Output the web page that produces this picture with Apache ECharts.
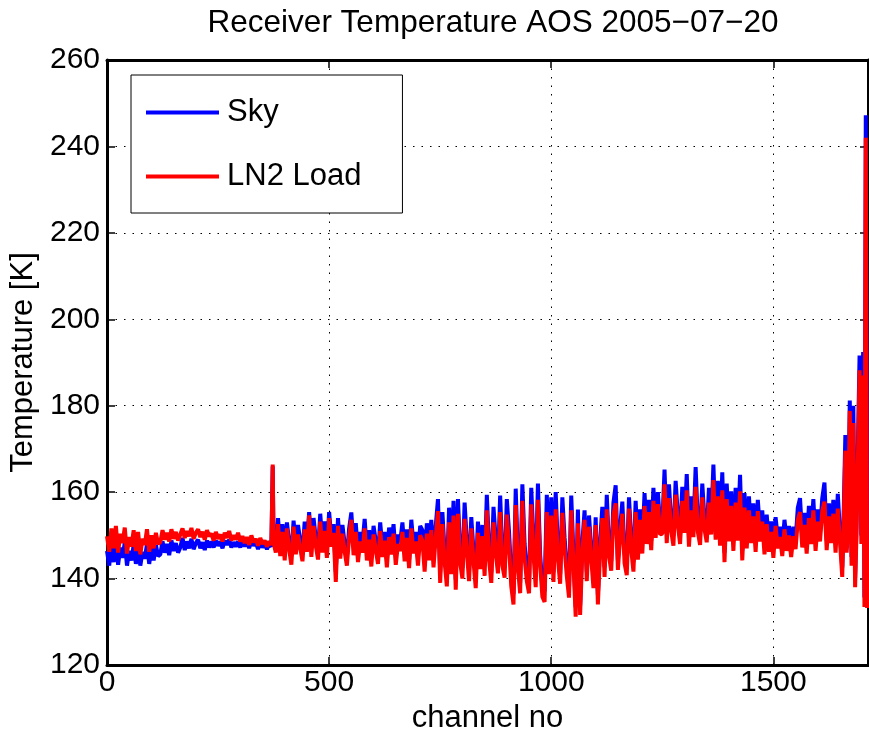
<!DOCTYPE html>
<html>
<head>
<meta charset="utf-8">
<script src="https://cdn.jsdelivr.net/npm/echarts@6/dist/echarts.min.js"></script>
<style>
html,body{margin:0;padding:0;background:#fff;}
#chart{width:869px;height:735px;}
</style>
</head>
<body>
<div id="chart"></div>
<script>
// ---- data ----
const titleText = 'Receiver Temperature AOS 2005\u221207\u221220';
const xAxisName = 'channel no';
const yAxisName = 'Temperature [K]';
const seriesNames = ['Sky', 'LN2 Load'];
const xTicks = [0, 500, 1000, 1500];
const yTicks = [120, 140, 160, 180, 200, 220, 240, 260];

const channels = [
  0,5,10,15,20,25,30,35,40,45,50,55,60,65,70,75,80,85,90,95,100,105,110,115,
  120,125,130,135,140,145,150,155,160,
  165,170,175,180,185,190,195,200,205,210,215,220,225,230,
  235,240,245,250,255,260,265,270,275,280,285,290,295,300,
  305,310,315,320,325,330,335,340,345,350,355,360,365,
  370,373,375,
  380,385,390,395,400,405,410,415,420,425,430,435,440,445,450,455,460,465,470,475,480,485,490,495,500,505,510,515,520,
  525,530,535,540,545,550,555,560,565,570,575,580,585,590,595,600,605,610,615,620,625,630,635,640,645,650,655,660,665,670,675,680,685,690,695,700,705,
  710,715,720,725,730,735,740,745,750,755,760,765,770,775,780,785,790,795,800,805,810,815,820,825,830,835,840,845,
  850,855,860,865,870,875,880,885,890,895,900,905,910,915,920,925,930,935,940,945,950,955,960,965,970,975,980,985,990,995,1000,
  1005,1010,1015,1020,1025,1030,1035,1040,1045,1050,1055,1060,1065,1070,1075,1080,1085,1090,1095,1100,1105,
  1110,1115,1120,1125,1130,1135,1140,1145,1150,1155,1160,1165,1170,1175,1180,1185,1190,1195,1200,
  1205,1210,1215,1220,1225,1230,1235,1240,1245,
  1250,1255,1260,1265,1270,1275,1280,1285,1290,1295,1300,1305,1310,1315,1320,1325,1330,1335,1340,1345,1350,1355,1360,1365,1370,1375,1380,1385,
  1390,1395,1400,1405,1410,1415,1420,1425,1430,1435,1440,1445,1450,1455,1460,1465,1470,1475,1480,
  1485,1490,1495,1500,1505,1510,1515,1520,1525,1530,1535,1540,1545,
  1550,1555,1560,1565,1570,1575,1580,1585,1590,1595,1600,1605,1610,1615,1620,1625,1630,1635,1640,1645,1650,
  1655,1658,1662,1665,1668,1672,1676,1680,1684,1687,1690,1694,1698,1702,1705,1708,1711
];

const sky = [
  146.4,143.0,148.2,143.8,148.8,143.2,147.2,144.8,148.4,143.0,146.4,144.2,147.8,143.4,147.4,143.0,146.2,144.6,148.0,143.4,147.0,144.2,147.8,145.2,
  145.6,148.6,146.0,148.0,145.4,148.8,146.4,148.2,146.0,
  147.2,149.4,146.6,148.6,147.0,149.2,146.8,148.2,149.0,147.0,148.4,146.6,148.8,147.2,
  148.6,147.2,148.8,147.6,148.6,147.0,148.8,147.8,149.0,147.2,148.4,147.4,148.6,147.2,
  148.8,147.4,148.8,147.0,149.0,147.6,148.4,146.8,148.6,147.2,148.0,146.8,148.0,
  147.4,166.0,147.6,
  147.6,154.0,147.0,152.6,146.0,153.0,148.6,145.2,153.4,147.4,152.4,148.8,146.0,153.2,148.0,155.4,147.0,154.0,149.2,146.4,155.0,148.0,153.2,146.6,155.4,149.2,152.6,141.6,154.0,
  146.6,152.4,148.0,145.0,151.6,155.3,147.4,152.8,145.8,150.8,148.0,153.8,146.2,151.2,144.8,152.2,148.6,145.4,153.0,147.0,150.8,144.6,151.8,147.6,152.6,145.2,150.2,148.4,153.0,146.0,151.4,144.4,153.6,147.8,150.8,145.0,152.2,
  151.2,144.0,152.8,146.6,153.6,145.0,152.2,158.4,141.4,155.4,146.2,140.6,156.4,143.4,158.0,139.8,158.4,146.0,142.4,157.6,148.6,141.8,154.2,146.4,140.2,153.2,144.6,152.4,
  143.0,159.4,147.2,141.4,156.6,149.0,143.6,159.2,145.4,142.6,158.4,150.8,140.6,136.4,160.8,144.8,139.0,161.8,148.0,141.8,139.0,161.0,149.0,140.4,162.0,145.6,138.2,137.0,159.4,143.4,158.8,
  141.4,160.0,147.0,141.0,158.8,149.4,142.8,137.8,159.2,145.6,133.4,156.0,133.8,148.4,155.8,141.6,154.6,147.0,140.0,154.2,136.2,
  148.6,156.6,142.6,159.4,147.4,144.0,157.6,161.6,144.2,151.8,157.8,145.8,143.0,158.8,149.0,143.8,158.0,146.6,156.0,
  148.0,159.8,150.2,158.2,148.8,161.0,151.6,160.0,152.4,
  152.6,165.2,150.4,161.8,153.2,149.8,162.6,154.6,150.2,161.2,152.8,164.2,149.6,159.0,151.8,165.8,153.0,150.0,162.0,153.6,150.6,161.0,152.4,166.4,151.2,162.6,149.8,164.6,
  146.0,162.0,150.8,160.2,148.6,161.0,151.0,164.0,146.4,159.8,149.2,159.0,150.4,157.4,148.4,158.2,150.8,155.8,147.8,
  154.8,148.4,153.2,147.0,154.2,149.2,152.0,147.4,153.6,148.6,152.2,147.2,152.0,
  149.0,156.4,158.6,149.4,155.2,148.0,156.8,150.2,158.4,148.6,156.0,150.8,158.6,162.2,148.8,157.4,150.4,158.2,148.2,159.6,150.6,
  142.6,154.0,173.2,148.0,153.0,181.2,145.0,180.0,140.2,152.0,169.0,191.6,150.0,192.4,135.6,247.2,135.0
];

const ln2Load = [
  149.8,146.2,151.6,147.0,152.2,146.0,150.4,148.2,151.8,145.8,149.6,147.4,151.2,146.4,150.8,145.6,149.2,147.8,151.4,146.2,150.0,147.0,150.6,148.0,
  148.4,151.2,149.0,150.6,148.6,151.4,149.2,150.8,148.8,
  150.2,151.6,149.4,151.0,149.8,151.7,149.2,150.6,151.4,149.6,150.8,149.0,151.2,149.8,
  150.4,148.8,150.8,149.2,150.2,148.6,150.6,149.4,151.0,148.8,150.0,149.0,150.6,148.6,
  149.8,148.2,149.6,147.8,150.0,148.4,149.2,147.6,149.4,148.0,148.8,147.4,148.6,
  147.8,166.4,148.2,
  146.0,152.6,145.2,150.8,144.2,151.6,146.8,143.2,152.0,145.6,150.2,147.0,144.0,151.4,146.2,154.6,145.0,152.2,147.6,144.4,153.2,146.0,151.0,144.8,154.0,147.4,150.6,139.2,152.2,
  144.6,150.4,146.2,143.0,149.6,153.6,145.4,150.8,143.8,148.6,146.0,151.6,144.2,149.0,142.8,150.2,146.6,143.4,151.0,145.0,148.8,142.6,149.6,145.6,150.4,143.2,148.0,146.4,150.8,144.0,149.4,142.4,151.6,145.8,148.6,143.0,150.0,
  148.8,141.6,150.4,144.2,151.2,142.6,149.6,155.6,139.0,152.6,143.8,138.2,153.0,141.0,154.6,137.4,155.0,143.6,140.0,153.8,146.2,139.4,151.6,144.0,137.8,150.6,142.2,149.8,
  140.6,155.8,144.4,139.0,153.0,146.0,141.2,155.4,143.0,140.2,154.8,147.6,138.2,134.0,157.0,142.4,136.6,158.0,144.8,139.4,136.6,157.2,145.6,138.0,158.2,143.2,135.8,134.6,155.4,141.0,154.6,
  139.2,156.0,144.6,138.8,155.2,147.0,140.6,135.6,155.8,143.4,131.2,152.8,131.6,146.2,153.6,139.4,152.0,144.8,137.8,152.4,134.0,
  146.4,154.0,140.4,156.0,145.2,141.8,154.8,157.4,142.0,149.6,155.0,143.6,140.8,156.2,146.8,141.6,155.4,144.4,153.6,
  145.8,156.8,148.0,155.4,146.6,158.0,149.4,157.2,150.2,
  150.4,161.8,148.2,158.6,151.0,147.6,159.4,152.4,148.0,158.0,150.6,160.4,147.4,155.8,149.6,161.2,150.8,147.8,158.8,151.4,148.4,157.6,150.2,162.8,149.0,159.0,147.6,160.4,
  143.8,158.4,148.6,156.8,146.4,157.6,148.8,160.2,144.2,156.4,147.0,155.8,148.2,154.4,146.2,155.6,148.6,153.2,145.6,
  152.6,146.2,150.8,144.8,152.2,147.0,149.6,145.2,151.4,146.4,150.0,145.0,149.8,
  146.8,153.6,155.4,147.2,152.4,145.8,154.0,148.0,155.8,146.4,153.2,148.6,155.6,157.8,146.6,154.4,148.2,155.0,146.0,156.2,148.4,
  140.4,152.0,169.6,146.0,151.0,178.8,143.0,176.0,138.0,150.0,166.0,188.2,148.0,187.0,133.4,242.0,133.2
];

const xMin = 0, xMax = 1713, xStep = 500;
const yMin = 120, yMax = 260, yStep = 20;

// ---- chart ----
const FONT = "'Liberation Sans', Arial, Helvetica, sans-serif";
const pairs = (vals) => channels.map((c, i) => [c, vals[i]]);

const gridDots = { show: true, lineStyle: { color: '#000', width: 1, type: [1.5, 7] } };
const boxLine = { show: true, onZero: false, lineStyle: { color: '#000', width: 3 } };
const tickIn = { show: true, inside: true, length: 8, lineStyle: { color: '#000', width: 1.5 } };

const chart = echarts.init(document.getElementById('chart'), null, { renderer: 'canvas' });
chart.setOption({
  animation: false,
  backgroundColor: '#fff',
  title: {
    text: titleText,
    left: 488,
    top: 2,
    textAlign: 'center',
    textStyle: { fontFamily: FONT, fontSize: 31.5, fontWeight: 'normal', color: '#000' }
  },
  grid: { left: 107, right: 1, top: 60, bottom: 70, containLabel: false, outerBoundsMode: 'none' },
  legend: {
    data: seriesNames,
    orient: 'vertical',
    left: 131,
    top: 75,
    padding: [22, 41, 21, 15],
    itemWidth: 73,
    itemHeight: 4,
    itemGap: 33,
    icon: 'rect',
    borderColor: '#000',
    borderWidth: 1,
    backgroundColor: '#fff',
    textStyle: { fontFamily: FONT, fontSize: 31, color: '#000', padding: [0, 0, 0, 3] }
  },
  xAxis: [
    {
      type: 'value', min: xMin, max: xMax, interval: xStep, position: 'bottom',
      name: xAxisName, nameLocation: 'middle', nameGap: 37,
      nameTextStyle: { fontFamily: FONT, fontSize: 31, color: '#000' },
      axisLine: boxLine, axisTick: tickIn, splitLine: gridDots,
      axisLabel: {
        fontFamily: FONT, fontSize: 30, color: '#000', margin: 3, showMaxLabel: false,
        formatter: (v) => (xTicks.indexOf(v) >= 0 ? String(v) : '')
      }
    },
    {
      type: 'value', min: xMin, max: xMax, interval: xStep, position: 'top',
      axisLine: boxLine, axisTick: tickIn, splitLine: { show: false }, axisLabel: { show: false }
    }
  ],
  yAxis: [
    {
      type: 'value', min: yMin, max: yMax, interval: yStep, position: 'left',
      name: yAxisName, nameLocation: 'middle', nameGap: 60,
      nameTextStyle: { fontFamily: FONT, fontSize: 31, color: '#000' },
      axisLine: boxLine, axisTick: tickIn, splitLine: gridDots,
      axisLabel: {
        fontFamily: FONT, fontSize: 30, color: '#000', margin: 7,
        formatter: (v) => (yTicks.indexOf(v) >= 0 ? String(v) : '')
      }
    },
    {
      type: 'value', min: yMin, max: yMax, interval: yStep, position: 'right',
      axisLine: boxLine, axisTick: tickIn, splitLine: { show: false }, axisLabel: { show: false }
    }
  ],
  series: [
    {
      name: seriesNames[0], type: 'line', data: pairs(sky), xAxisIndex: 0, yAxisIndex: 0,
      showSymbol: false, symbol: 'none', sampling: null,
      lineStyle: { color: '#0000ff', width: 4 }, itemStyle: { color: '#0000ff' }, z: 2
    },
    {
      name: seriesNames[1], type: 'line', data: pairs(ln2Load), xAxisIndex: 0, yAxisIndex: 0,
      showSymbol: false, symbol: 'none', sampling: null,
      lineStyle: { color: '#ff0000', width: 4 }, itemStyle: { color: '#ff0000' }, z: 3
    }
  ]
});
</script>
</body>
</html>
